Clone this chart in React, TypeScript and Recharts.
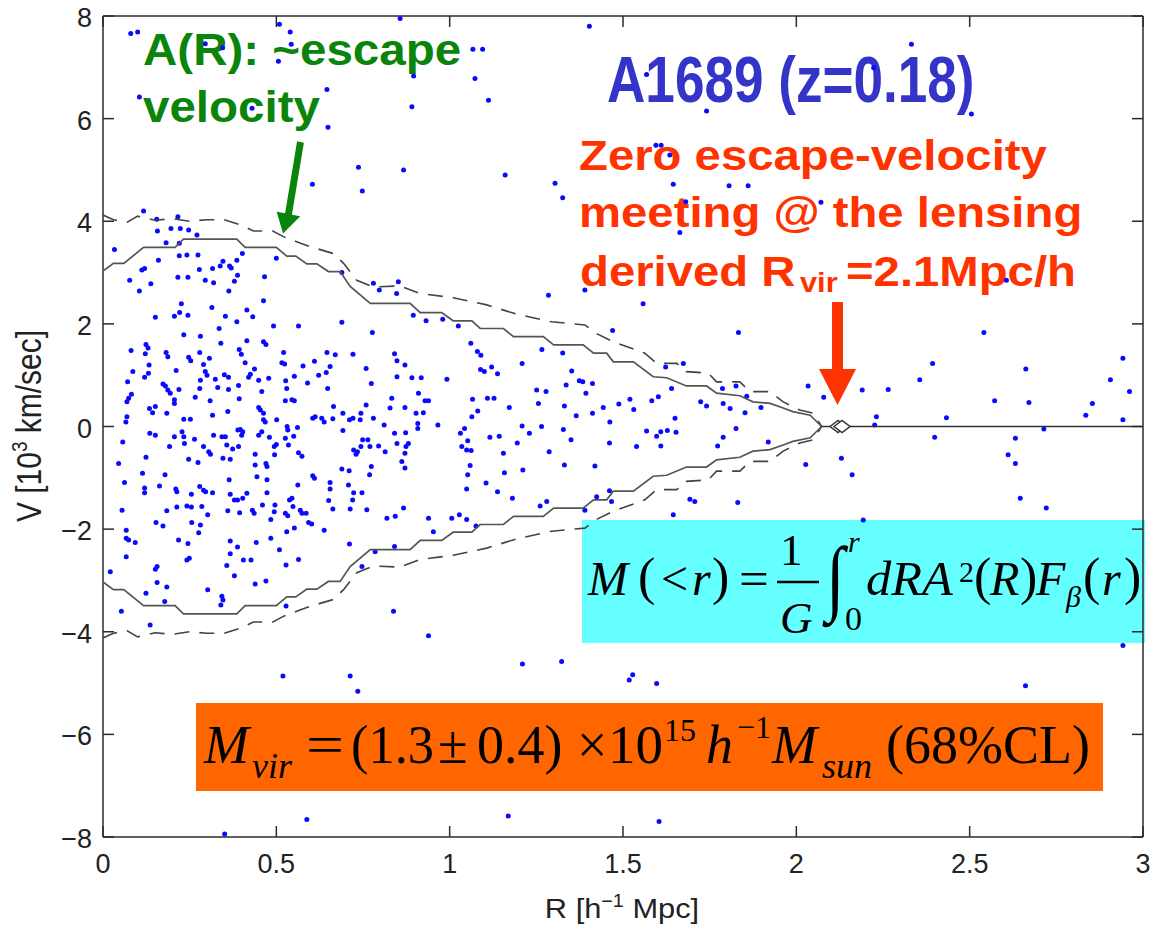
import React from 'react';
import { ScatterChart, Scatter, XAxis, YAxis, Customized } from 'recharts';

// ---- axes ----
const R_TICKS = [0, 0.5, 1, 1.5, 2, 2.5, 3];
const V_TICKS = [-8, -6, -4, -2, 0, 2, 4, 6, 8];

// ---- caustic amplitude A(R), upper branch (10^3 km/s) ----
const CAUSTIC_R = [0, 0.03, 0.06, 0.117, 0.208, 0.232, 0.386, 0.41, 0.5, 0.53, 0.556, 0.588, 0.617, 0.65, 0.684, 0.713, 0.771, 0.886, 0.915, 0.977, 1.01, 1.064, 1.088, 1.155, 1.184, 1.27, 1.3, 1.385, 1.415, 1.453, 1.472, 1.53, 1.587, 1.626, 1.683, 1.741, 1.77, 1.837, 1.875, 1.924, 1.962, 1.99, 2.04, 2.073];
const CAUSTIC_A = [3.03, 3.18, 3.18, 3.49, 3.49, 3.65, 3.65, 3.49, 3.49, 3.32, 3.32, 3.17, 3.17, 3.02, 3.02, 2.73, 2.4, 2.4, 2.22, 2.22, 2.06, 2.06, 1.91, 1.91, 1.75, 1.75, 1.59, 1.59, 1.43, 1.43, 1.26, 1.26, 0.97, 0.95, 0.79, 0.79, 0.65, 0.6, 0.48, 0.45, 0.36, 0.29, 0.22, 0];

// ---- caustic uncertainty envelope, upper branch ----
const ENVELOPE_R = [0, 0.03, 0.07, 0.1, 0.15, 0.2, 0.25, 0.3, 0.35, 0.4, 0.434, 0.49, 0.52, 0.57, 0.6, 0.665, 0.694, 0.732, 0.78, 0.857, 0.915, 1.01, 1.107, 1.193, 1.294, 1.39, 1.424, 1.472, 1.563, 1.597, 1.655, 1.683, 1.746, 1.77, 1.837, 1.866, 1.924, 1.962, 2.01, 2.048, 2.073];
const ENVELOPE_A = [4.12, 4.03, 3.98, 4.1, 4.02, 4.05, 4.0, 4.03, 4.03, 3.92, 3.81, 3.81, 3.7, 3.57, 3.5, 3.37, 3.18, 2.85, 2.72, 2.74, 2.59, 2.51, 2.37, 2.19, 2.04, 1.98, 1.81, 1.65, 1.43, 1.23, 1.23, 1.07, 1.04, 0.87, 0.87, 0.68, 0.68, 0.48, 0.32, 0.26, 0];

// beyond the turnaround the caustic stays at zero
const ZERO_R = [2.073, 3];
const RVIR = [2.126];

// ---- cluster members [R (h^-1 Mpc), v (10^3 km/s)] ----
const upperField: [number, number][] = [
  [0.08, 7.66], [0.1, 7.69], [0.509, 7.84], [0.54, 7.69], [0.543, 7.45], [0.506, 7.12], [0.295, 7.46], [0.345, 7.38],
  [0.105, 6.42], [0.43, 6.2], [0.646, 6.57], [0.649, 5.83], [0.737, 5.05], [0.748, 4.59], [0.604, 4.72],
  [0.117, 4.2], [0.216, 4.09], [0.155, 4.04], [0.157, 3.81], [0.196, 3.86], [0.223, 3.86], [0.247, 3.83], [0.271, 3.73],
  [0.033, 3.45], [0.182, 3.58], [0.22, 3.57], [0.22, 3.33], [0.242, 3.34], [0.274, 3.34], [0.16, 3.24], [0.112, 3.05],
  [0.12, 3.08], [0.077, 2.85], [0.105, 2.64], [0.138, 2.78], [0.216, 2.91], [0.245, 2.91], [0.278, 3.06], [0.295, 2.85],
  [0.316, 3.08], [0.319, 2.8], [0.338, 3.13], [0.346, 3.22], [0.365, 3.13], [0.37, 3.09], [0.386, 3.24], [0.402, 3.37],
  [0.388, 2.95], [0.379, 2.83], [0.363, 2.64], [0.466, 2.92], [0.5, 3.28], [0.689, 3.0], [0.78, 2.79], [0.797, 2.66],
  [0.847, 2.59], [0.852, 2.82],
  [0.857, 7.95], [1.403, 7.8], [1.067, 7.35], [1.095, 7.35], [0.896, 6.83], [1.073, 6.78], [0.891, 6.23], [1.112, 6.36],
  [1.568, 6.86], [1.741, 6.15], [0.867, 5.0], [1.16, 4.9], [1.304, 4.74], [1.326, 4.46], [1.595, 5.48], [1.61, 5.48],
  [1.635, 5.29], [1.645, 4.72], [1.681, 4.38], [1.806, 4.69], [1.861, 4.69], [1.664, 3.78], [1.39, 2.66], [1.285, 2.56],
  [2.332, 7.45], [2.223, 6.99], [2.505, 6.09], [2.071, 4.37], [2.606, 2.85],
];

const coreMembers: [number, number][] = [
  [0.226, 2.39], [0.314, 2.32], [0.415, 2.27], [0.463, 2.45], [0.151, 2.13], [0.206, 2.15], [0.221, 2.22], [0.245, 2.17],
  [0.353, 2.15], [0.386, 2.04], [0.432, 2.14], [0.335, 1.91], [0.492, 1.96], [0.564, 1.96], [0.689, 2.03], [0.777, 1.83],
  [0.233, 1.79], [0.281, 1.76],
  [0.081, 1.48], [0.124, 1.6], [0.13, 1.53], [0.122, 1.42], [0.182, 1.44], [0.187, 1.36], [0.247, 1.35], [0.253, 1.28],
  [0.279, 1.44], [0.307, 1.33], [0.29, 1.21], [0.34, 1.62], [0.393, 1.5], [0.399, 1.41], [0.415, 1.67], [0.41, 1.24],
  [0.463, 1.65], [0.47, 1.6], [0.516, 1.24], [0.524, 1.22], [0.521, 1.44], [0.577, 1.18], [0.61, 1.27], [0.646, 1.44],
  [0.67, 1.4], [0.655, 1.17], [0.721, 1.41], [0.841, 1.42], [0.848, 1.28], [0.759, 1.13],
  [0.086, 1.07], [0.071, 0.87], [0.082, 0.63], [0.069, 0.48], [0.074, 0.55], [0.12, 0.96], [0.131, 1.04], [0.133, 1.2],
  [0.173, 0.83], [0.18, 0.79], [0.187, 0.71], [0.194, 0.65], [0.206, 0.52], [0.206, 0.45], [0.211, 1.09], [0.219, 0.72],
  [0.266, 0.57], [0.295, 1.07], [0.3, 1.0], [0.281, 0.9], [0.279, 0.74], [0.309, 0.5], [0.324, 0.92], [0.35, 1.01],
  [0.362, 0.96], [0.331, 0.76], [0.362, 0.72], [0.391, 0.8], [0.393, 0.54], [0.42, 0.96], [0.425, 1.02], [0.437, 1.12],
  [0.449, 0.9], [0.458, 0.68], [0.478, 0.94], [0.449, 0.37], [0.454, 0.32], [0.463, 0.26], [0.527, 0.89], [0.53, 0.74],
  [0.526, 0.5], [0.545, 0.52], [0.552, 0.5], [0.552, 0.98], [0.59, 0.85], [0.622, 1.0], [0.644, 1.05], [0.648, 0.74],
  [0.665, 0.39], [0.692, 0.26], [0.721, 0.16], [0.744, 0.26], [0.759, 0.42], [0.774, 0.84], [0.78, 0.16], [0.811, 0.03],
  [0.828, 0.36], [0.833, 0.55], [0.848, 0.97],
  [0.057, -0.3], [0.066, 0.09], [0.069, 0.19], [0.134, 0.35], [0.143, 0.27], [0.151, 0.39], [0.184, 0.26], [0.135, -0.13],
  [0.151, -0.17], [0.233, 0.14], [0.252, 0.14], [0.228, -0.1], [0.233, -0.2], [0.235, -0.33], [0.206, -0.2], [0.192, -0.39],
  [0.264, -0.25], [0.316, 0.22], [0.319, -0.17], [0.343, -0.2], [0.353, -0.2], [0.36, 0.29], [0.389, -0.07], [0.396, -0.06],
  [0.403, -0.1], [0.4, -0.17], [0.391, -0.39], [0.374, -0.44], [0.357, -0.36], [0.29, -0.39], [0.305, -0.49], [0.31, -0.54],
  [0.449, -0.17], [0.458, -0.1], [0.463, 0.13], [0.468, 0.09], [0.48, -0.21], [0.501, 0.13], [0.5, -0.35], [0.494, -0.39],
  [0.526, -0.23], [0.531, 0.0], [0.533, -0.07], [0.55, -0.19], [0.535, -0.36], [0.561, -0.02], [0.564, -0.51], [0.574, -0.58],
  [0.605, 0.16], [0.612, 0.19], [0.631, 0.16], [0.638, 0.09], [0.663, 0.15], [0.692, -0.08], [0.711, 0.13], [0.742, 0.13],
  [0.723, -0.46], [0.734, -0.49], [0.744, -0.39], [0.749, -0.26], [0.764, -0.26], [0.77, -0.39], [0.795, -0.38], [0.814, -0.49],
  [0.841, -0.13], [0.848, -0.33], [0.73, -0.54],
  [0.045, -0.72], [0.062, -1.09], [0.124, -0.6], [0.114, -0.91], [0.12, -1.2], [0.12, -1.29], [0.163, -1.16], [0.179, -0.94],
  [0.21, -1.22], [0.213, -1.27], [0.247, -0.64], [0.274, -0.7], [0.255, -1.32], [0.279, -1.17], [0.29, -1.24], [0.296, -1.27],
  [0.316, -1.29], [0.346, -0.62], [0.367, -0.64], [0.364, -1.04], [0.367, -1.32], [0.379, -1.43], [0.388, -1.43], [0.403, -1.4],
  [0.415, -1.3], [0.439, -0.54], [0.439, -0.75], [0.444, -0.98], [0.47, -0.72], [0.473, -0.78], [0.473, -1.04], [0.473, -1.29],
  [0.495, -0.55], [0.562, -1.14], [0.605, -0.96], [0.61, -1.01], [0.655, -1.09], [0.655, -1.22], [0.651, -1.44], [0.663, -1.61],
  [0.689, -0.83], [0.71, -0.86], [0.708, -1.14], [0.723, -1.29], [0.72, -1.43], [0.747, -1.29], [0.713, -1.61], [0.761, -1.62],
  [0.774, -0.78], [0.769, -0.94], [0.819, -1.79], [0.843, -1.75],
  [0.055, -1.63], [0.153, -1.87], [0.173, -1.94], [0.184, -1.64], [0.213, -1.57], [0.242, -1.55], [0.255, -1.57], [0.285, -1.56],
  [0.302, -1.72], [0.256, -1.87], [0.281, -1.92], [0.276, -2.07], [0.36, -1.64], [0.394, -1.68], [0.431, -1.63], [0.436, -1.69],
  [0.46, -1.53], [0.484, -1.81], [0.496, -1.53], [0.494, -1.66], [0.526, -1.69], [0.533, -1.74], [0.538, -1.43], [0.545, -1.4],
  [0.548, -1.56], [0.53, -2.05], [0.552, -1.98], [0.569, -1.63], [0.574, -1.69], [0.586, -1.69], [0.593, -1.87], [0.602, -1.9],
  [0.638, -2.02],
  [0.067, -2.02], [0.067, -2.18], [0.074, -2.21], [0.093, -2.26], [0.067, -2.54], [0.021, -2.83], [0.156, -2.73], [0.151, -2.78],
  [0.156, -3.04], [0.184, -3.13], [0.124, -3.25], [0.178, -3.41], [0.218, -2.21], [0.245, -2.28], [0.249, -2.57], [0.242, -2.6],
  [0.302, -3.18], [0.343, -3.31], [0.346, -3.38], [0.34, -3.48], [0.357, -2.71], [0.367, -2.48], [0.379, -2.91], [0.367, -2.23],
  [0.388, -2.35], [0.405, -2.6], [0.427, -2.6], [0.442, -2.26], [0.439, -3.07], [0.47, -3.01], [0.484, -2.18], [0.509, -2.4],
  [0.528, -2.7], [0.564, -2.59], [0.528, -3.5], [0.711, -2.29], [0.747, -2.73], [0.785, -2.44], [0.841, -2.34], [0.838, -3.6],
  [0.053, -3.6],
];

const outerMembers: [number, number][] = [
  [0.895, 2.17], [0.932, 2.06], [0.98, 2.09], [1.025, 1.96], [1.061, 1.62], [1.08, 1.46], [1.09, 1.39], [1.089, 1.11],
  [1.1, 1.07], [1.121, 1.16], [1.138, 1.03], [0.871, 1.2], [0.891, 0.95], [0.918, 0.95], [0.992, 0.92], [0.91, 0.65],
  [0.929, 0.5], [0.939, 0.5], [0.871, 0.37], [0.903, 0.26], [0.924, 0.27], [0.908, 0.06], [0.908, -0.04], [0.873, -0.12],
  [0.881, -0.33], [0.874, -0.39], [0.871, -0.52], [0.862, -0.68], [0.871, -0.81], [0.966, 0.03], [1.031, -0.13], [1.043, -0.04],
  [1.035, -0.39], [1.049, -0.46], [1.062, -0.47], [1.064, 0.19], [1.066, 0.53], [1.109, 0.55], [1.128, 0.55], [1.081, 0.3],
  [1.052, -0.28], [1.059, -0.76], [1.052, -0.94], [1.049, -1.22], [1.105, -1.1], [1.138, -1.27], [1.116, -0.21], [1.143, -0.19],
  [1.155, -0.52], [1.158, -0.9], [1.172, 0.37], [1.195, -0.32], [1.209, 0.01], [1.209, 1.23], [1.23, -0.13], [1.181, -1.4],
  [1.211, -0.85], [1.251, 0.71], [1.278, 0.68], [1.256, 0.45], [1.265, 0.0], [1.287, -0.49], [1.266, 1.5], [1.326, 1.43],
  [1.331, 0.4], [1.328, -0.06], [1.35, -0.26], [1.331, -0.75], [1.352, 1.08], [1.336, 0.81], [1.374, 0.89], [1.384, 0.87],
  [1.412, 0.84], [1.393, 0.65], [1.365, 0.21], [1.412, 0.26], [1.419, -0.77], [1.261, -1.55], [1.28, -1.46], [1.39, -1.63],
  [1.443, 0.37], [1.462, 0.09], [1.461, -0.32], [1.461, -1.25], [1.424, -1.37], [1.467, -1.46], [1.488, 0.44], [1.52, 0.53],
  [1.531, 0.33], [1.539, -0.39], [1.47, 1.87], [1.568, -0.09], [1.583, 0.5], [1.602, 0.58], [1.597, -0.19], [1.609, -0.1],
  [1.628, -0.08], [1.653, -0.11], [1.609, -0.38], [1.65, 0.16], [1.623, 1.16], [1.64, 0.74], [1.674, 1.23], [1.693, -1.42],
  [1.707, -1.46], [1.645, -1.72], [1.724, 0.48], [1.741, 0.4], [1.773, -0.38], [1.787, 0.74], [1.789, 0.45], [1.809, 0.35],
  [1.789, -0.21], [1.826, 0.79], [1.826, -0.04], [1.833, 1.83], [1.852, 0.27], [1.857, 0.59], [1.898, 0.37], [1.919, -0.3],
  [1.831, -1.48], [1.558, 2.39], [0.939, -1.79], [0.953, -2.05], [1.006, -1.79], [1.028, -1.72], [1.049, -1.81], [1.076, -1.94],
  [0.867, -1.59],
];

const infallField: [number, number][] = [
  [2.541, 1.83], [2.393, 1.23], [2.356, 0.91], [2.034, 0.79], [2.079, 0.57], [2.19, 0.71], [2.265, 0.72], [2.231, 0.19],
  [2.226, 0.03], [2.433, 0.17], [2.572, 0.5], [2.662, 1.12], [2.671, 0.47], [2.942, 1.33], [2.906, 0.91], [2.961, 0.68],
  [2.854, 0.45], [2.835, 0.22], [2.942, 0.13], [2.714, -0.05], [2.399, -0.21], [2.632, -0.23], [2.611, -0.55], [2.632, -0.72],
  [2.13, -0.62], [2.161, -0.94], [2.027, -0.74], [2.646, -1.4], [2.721, -1.59], [2.193, -1.82],
  [0.136, -3.87], [0.519, -4.86], [0.713, -4.86], [0.735, -5.16], [0.588, -7.66], [0.351, -7.94], [0.939, -4.08], [1.21, -4.63],
  [1.323, -4.58], [1.518, -4.94], [1.528, -4.84], [1.597, -5.01], [1.169, -7.59], [1.604, -7.7], [2.661, -5.05], [2.942, -4.27],
];

const members = [...upperField, ...coreMembers, ...outerMembers, ...infallField].map(([r, v]) => ({ r, v }));
const causticUpper = CAUSTIC_R.map((r, i) => ({ r, v: CAUSTIC_A[i] }));
const causticLower = CAUSTIC_R.map((r, i) => ({ r, v: -CAUSTIC_A[i] }));
const envelopeUpper = ENVELOPE_R.map((r, i) => ({ r, v: ENVELOPE_A[i] }));
const envelopeLower = ENVELOPE_R.map((r, i) => ({ r, v: -ENVELOPE_A[i] }));
const zeroLine = ZERO_R.map((r) => ({ r, v: 0 }));
const rvirMarker = RVIR.map((r) => ({ r, v: 0 }));

const SANS = "'Liberation Sans', Arial, Helvetica, sans-serif";
const SERIF = "'Liberation Serif', 'Times New Roman', serif";
const AXIS = '#2b2b2b';
const TICK_TEXT = '#222';
const GREEN = '#0a840a';
const RED = '#ff3300';

const fmt = (v: number) => (v < 0 ? '\u2212' + Math.abs(v) : String(v));

const BottomTick = (p: any) => (
  <g>
    <line x1={p.x} y1={p.y} x2={p.x} y2={p.y - 11} stroke={AXIS} strokeWidth={1.5} />
    <text x={p.x} y={p.y + 36} textAnchor="middle" fontFamily={SANS} fontSize={27} fill={TICK_TEXT}>
      {fmt(p.payload.value)}
    </text>
  </g>
);
const TopTick = (p: any) => <line x1={p.x} y1={p.y} x2={p.x} y2={p.y + 11} stroke={AXIS} strokeWidth={1.5} />;
const LeftTick = (p: any) => (
  <g>
    <line x1={p.x} y1={p.y} x2={p.x + 11} y2={p.y} stroke={AXIS} strokeWidth={1.5} />
    <text x={p.x - 11} y={p.y + 11} textAnchor="end" fontFamily={SANS} fontSize={27} fill={TICK_TEXT}>
      {fmt(p.payload.value)}
    </text>
  </g>
);
const RightTick = (p: any) => <line x1={p.x} y1={p.y} x2={p.x - 11} y2={p.y} stroke={AXIS} strokeWidth={1.5} />;

const GalaxyDot = (p: any) => <circle cx={p.cx} cy={p.cy} r={2.5} fill="#0a0aff" />;
const NoMark = () => <g />;
const RvirDiamond = (p: any) => (
  <g fill="#fff" stroke="#333" strokeWidth={1.5}>
    <polygon points={`${p.cx - 10},${p.cy} ${p.cx - 2},${p.cy - 6} ${p.cx + 6},${p.cy} ${p.cx - 2},${p.cy + 6}`} />
    <polygon points={`${p.cx - 6},${p.cy} ${p.cx + 2},${p.cy - 6} ${p.cx + 10},${p.cy} ${p.cx + 2},${p.cy + 6}`} />
  </g>
);

// text placed at (x, y) and stretched by (sx, sy)
const T = ({ x, y, sx = 1, sy = 1, size, family = SERIF, italic = false, bold = false, fill = '#000', children }: any) => (
  <text
    transform={`translate(${x},${y}) scale(${sx},${sy})`}
    fontFamily={family}
    fontSize={size}
    fontStyle={italic ? 'italic' : 'normal'}
    fontWeight={bold ? 'bold' : 'normal'}
    fill={fill}
  >
    {children}
  </text>
);

function Annotations() {
  return (
    <g>
      {/* axis titles */}
      <text transform="translate(622,918) scale(1.1,1)" textAnchor="middle" fontFamily={SANS} fontSize={28} fill={TICK_TEXT}>
        R [h<tspan fontSize={18} dy={-11}>{'\u22121'}</tspan>
        <tspan dy={11}> Mpc]</tspan>
      </text>
      <text transform="translate(29,426) scale(1.15,1) rotate(-90)" y={10.5} textAnchor="middle" fontFamily={SANS} fontSize={30} fill={TICK_TEXT}>
        V [10<tspan fontSize={19} dy={-12}>3</tspan>
        <tspan dy={12}> km/sec]</tspan>
      </text>

      {/* A(R) note and arrow */}
      <T x={143} y={65} sx={1.08} size={44} family={SANS} bold fill={GREEN}>A(R): ~escape</T>
      <T x={143} y={122} sx={1.08} size={44} family={SANS} bold fill={GREEN}>velocity</T>
      <polygon
        points="297.1,141.3 303.9,142.7 291.9,214.7 300.3,216.3 283,233.5 276.7,211.7 285.1,213.3"
        fill={GREEN}
      />

      {/* cluster name */}
      <T x={607} y={102} sx={0.83} size={64} family={SANS} bold fill="#3434c8">A1689 (z=0.18)</T>

      {/* turnaround note and arrow */}
      <T x={579} y={170} sx={1.1} size={43} family={SANS} bold fill={RED}>Zero escape-velocity</T>
      <T x={579} y={227} sx={1.1} size={43} family={SANS} bold fill={RED}>meeting @ the lensing</T>
      <T x={580} y={286} sx={1.1} size={43} family={SANS} bold fill={RED}>derived R</T>
      <T x={800} y={292} sx={1.1} size={28} family={SANS} bold fill={RED}>vir</T>
      <T x={846} y={286} sx={1.1} size={43} family={SANS} bold fill={RED}>=2.1Mpc/h</T>
      <polygon points="832,302 843,302 843,369 856,369 837.5,405 819,369 832,369" fill={RED} />

      {/* caustic mass estimator */}
      <rect x={582} y={520} width={563} height={123} fill="#66ffff" />
      <T x={588} y={595} size={48} italic>M</T>
      <T x={638} y={594} size={52}>(</T>
      <T x={661} y={595} size={48}>&lt;</T>
      <T x={692} y={595} size={48} italic>r</T>
      <T x={712} y={594} size={52}>)</T>
      <T x={739} y={595} sx={1.1} size={48}>=</T>
      <T x={780} y={565} size={45}>1</T>
      <line x1={777} y1={582} x2={819} y2={582} stroke="#000" strokeWidth={2.5} />
      <T x={780} y={633} size={45} italic>G</T>
      <T x={826} y={605} sx={1.1} sy={1.35} size={62}>{'\u222B'}</T>
      <T x={848} y={552} size={30} italic>r</T>
      <T x={845} y={630} size={34}>0</T>
      <T x={866} y={595} sx={1.05} size={48} italic>dRA</T>
      <T x={959} y={582} size={30}>2</T>
      <T x={974} y={594} size={52}>(</T>
      <T x={990} y={595} size={48} italic>R</T>
      <T x={1020} y={594} size={52}>)</T>
      <T x={1036} y={595} size={48} italic>F</T>
      <T x={1066} y={607} size={30} italic>{'\u03B2'}</T>
      <T x={1083} y={594} size={52}>(</T>
      <T x={1102} y={595} size={48} italic>r</T>
      <T x={1124} y={594} size={52}>)</T>

      {/* virial mass */}
      <rect x={196} y={703} width={907} height={88} fill="#ff6600" />
      <T x={204} y={763} size={54} italic>M</T>
      <T x={252} y={778} size={36} italic>vir</T>
      <T x={306} y={763} sx={1.25} size={54}>=</T>
      <T x={351} y={763} sx={0.97} size={54}>(1.3</T>
      <T x={438} y={763} size={54}>{'\u00B1'}</T>
      <T x={477} y={763} size={54}>0.4)</T>
      <T x={577} y={763} size={54}>{'\u00D7'}</T>
      <T x={608} y={763} sx={1.02} size={54}>10</T>
      <T x={664} y={741} size={32}>15</T>
      <T x={706} y={763} size={54} italic>h</T>
      <T x={737} y={738} size={32}>{'\u22121'}</T>
      <T x={772} y={763} size={54} italic>M</T>
      <T x={822} y={778} size={36} italic>sun</T>
      <T x={886} y={763} size={54}>(68%CL)</T>
    </g>
  );
}

export default function App() {
  return (
    <div style={{ position: 'absolute', left: 0, top: 0, width: 1150, height: 925, background: '#fff' }}>
      <ScatterChart width={1150} height={925} margin={{ top: 15, right: 6, bottom: 28, left: 23 }}>
        <XAxis
          xAxisId="b" type="number" dataKey="r" domain={[0, 3]} ticks={R_TICKS} interval={0}
          height={60} tickSize={0} tickMargin={0} tickLine={false}
          axisLine={{ stroke: AXIS, strokeWidth: 1.5 }} tick={BottomTick} allowDataOverflow
        />
        <XAxis
          xAxisId="t" orientation="top" type="number" dataKey="r" domain={[0, 3]} ticks={R_TICKS} interval={0}
          height={1} tickSize={0} tickMargin={0} tickLine={false}
          axisLine={{ stroke: AXIS, strokeWidth: 1.5 }} tick={TopTick} allowDataOverflow
        />
        <YAxis
          yAxisId="l" type="number" dataKey="v" domain={[-8, 8]} ticks={V_TICKS} interval={0}
          width={80} tickSize={0} tickMargin={0} tickLine={false}
          axisLine={{ stroke: AXIS, strokeWidth: 1.5 }} tick={LeftTick} allowDataOverflow
        />
        <YAxis
          yAxisId="r" orientation="right" type="number" dataKey="v" domain={[-8, 8]} ticks={V_TICKS} interval={0}
          width={1} tickSize={0} tickMargin={0} tickLine={false}
          axisLine={{ stroke: AXIS, strokeWidth: 1.5 }} tick={RightTick} allowDataOverflow
        />

        <Scatter data={members} xAxisId="b" yAxisId="l" fill="#0a0aff" shape={GalaxyDot} isAnimationActive={false} />
        <Scatter data={envelopeUpper} xAxisId="b" yAxisId="l" shape={NoMark} lineType="joint"
          line={{ stroke: '#444', strokeWidth: 1.6, strokeDasharray: '15 10' }} isAnimationActive={false} />
        <Scatter data={envelopeLower} xAxisId="b" yAxisId="l" shape={NoMark} lineType="joint"
          line={{ stroke: '#444', strokeWidth: 1.6, strokeDasharray: '15 10' }} isAnimationActive={false} />
        <Scatter data={causticUpper} xAxisId="b" yAxisId="l" shape={NoMark} lineType="joint"
          line={{ stroke: '#555', strokeWidth: 1.7 }} isAnimationActive={false} />
        <Scatter data={causticLower} xAxisId="b" yAxisId="l" shape={NoMark} lineType="joint"
          line={{ stroke: '#555', strokeWidth: 1.7 }} isAnimationActive={false} />
        <Scatter data={zeroLine} xAxisId="t" yAxisId="r" shape={NoMark} lineType="joint"
          line={{ stroke: '#333', strokeWidth: 1.7 }} isAnimationActive={false} />
        <Scatter data={rvirMarker} xAxisId="b" yAxisId="l" shape={RvirDiamond} isAnimationActive={false} />

        <Customized component={Annotations} />
      </ScatterChart>
    </div>
  );
}
